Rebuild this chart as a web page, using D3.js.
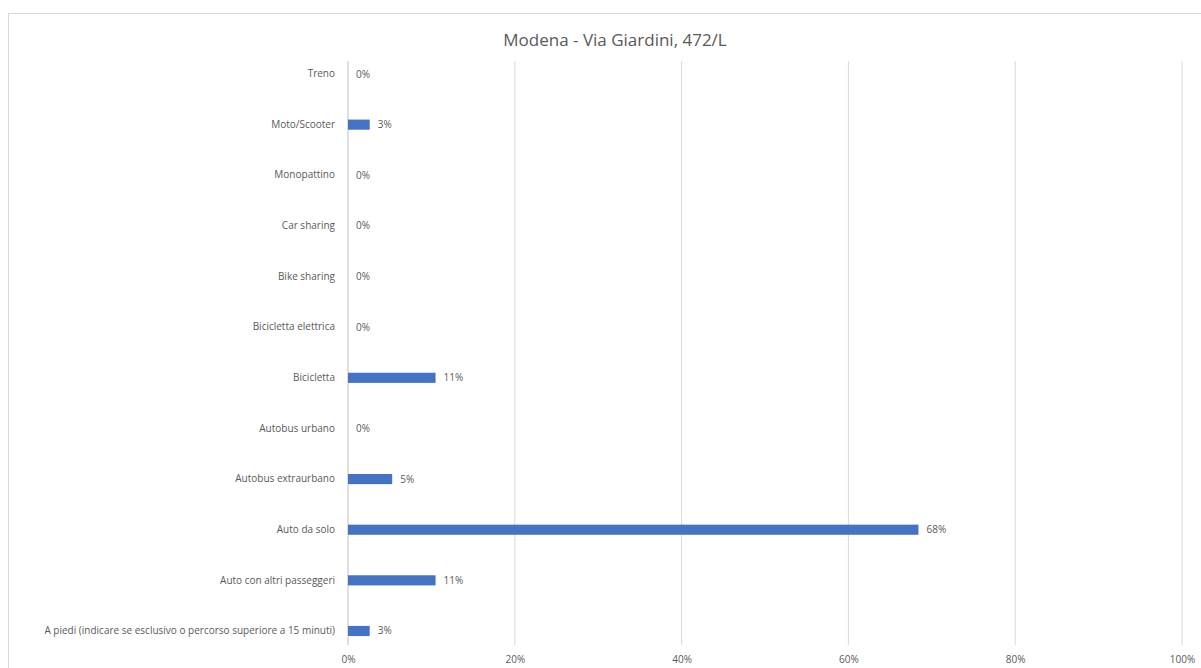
<!DOCTYPE html>
<html>
<head>
<meta charset="utf-8">
<script src="https://cdn.jsdelivr.net/npm/d3@7"></script>
<style>
  body { margin: 0; background: #fff; }
  text { font-family: "Open Sans", "Liberation Sans", sans-serif; fill: #595959; }
</style>
</head>
<body>
<svg id="grafico" width="1201" height="668"></svg>
<script>
const categorie = ["Treno", "Moto/Scooter", "Monopattino", "Car sharing", "Bike sharing",
  "Bicicletta elettrica", "Bicicletta", "Autobus urbano", "Autobus extraurbano",
  "Auto da solo", "Auto con altri passeggeri",
  "A piedi (indicare se esclusivo o percorso superiore a 15 minuti)"];
const valori = [0, 0.026, 0, 0, 0, 0, 0.105, 0, 0.053, 0.684, 0.105, 0.026];
const tickValori = [0, 0.2, 0.4, 0.6, 0.8, 1];
const titolo = "Modena - Via Giardini, 472/L";

const svg = d3.select("#grafico");

// cornice del grafico
svg.append("rect").attr("x", 8.5).attr("y", 13.5).attr("width", 1210).attr("height", 670)
  .attr("fill", "none").attr("stroke", "#d9d9d9");

const x = d3.scaleLinear().domain([0, 1]).range([348, 1182]);
const y = d3.scaleBand().domain(categorie).range([48.7, 656.3]).paddingInner(0.8).paddingOuter(0.4);

// griglia
svg.append("g").selectAll("line").data(tickValori).join("line")
  .attr("x1", d => x(d)).attr("x2", d => x(d))
  .attr("y1", 61).attr("y2", 645)
  .attr("stroke", d => d === 0 ? "#bfbfbf" : "#d9d9d9").attr("stroke-width", 1);

// asse x
const assex = svg.append("g").attr("transform", "translate(0,645)")
  .call(d3.axisBottom(x).tickValues(tickValori).tickFormat(d3.format(".0%")).tickSize(0).tickPadding(11));
assex.select(".domain").remove();
assex.selectAll("text").attr("font-size", 10).attr("fill", "#595959")
  .style("font-family", "'Open Sans', 'Liberation Sans', sans-serif");

// asse y
const assey = svg.append("g").attr("transform", "translate(348,0)")
  .call(d3.axisLeft(y).tickSize(0).tickPadding(13));
assey.select(".domain").remove();
assey.selectAll("text").attr("font-size", 10).attr("fill", "#595959")
  .style("font-family", "'Open Sans', 'Liberation Sans', sans-serif");

const dati = categorie.map((c, i) => ({ c: c, v: valori[i] }));

svg.append("g").selectAll("rect").data(dati).join("rect")
  .attr("x", x(0)).attr("y", d => y(d.c))
  .attr("width", d => x(d.v) - x(0)).attr("height", y.bandwidth())
  .attr("fill", "#4472c4");

svg.append("g").selectAll("text").data(dati).join("text")
  .attr("x", d => x(d.v) + 8).attr("y", d => y(d.c) + y.bandwidth() / 2)
  .attr("dy", "0.35em").attr("font-size", 10)
  .text(d => Math.round(d.v * 100) + "%");

svg.append("text").attr("x", 615).attr("y", 46).attr("text-anchor", "middle")
  .attr("font-size", 17).text(titolo);
</script>
</body>
</html>
